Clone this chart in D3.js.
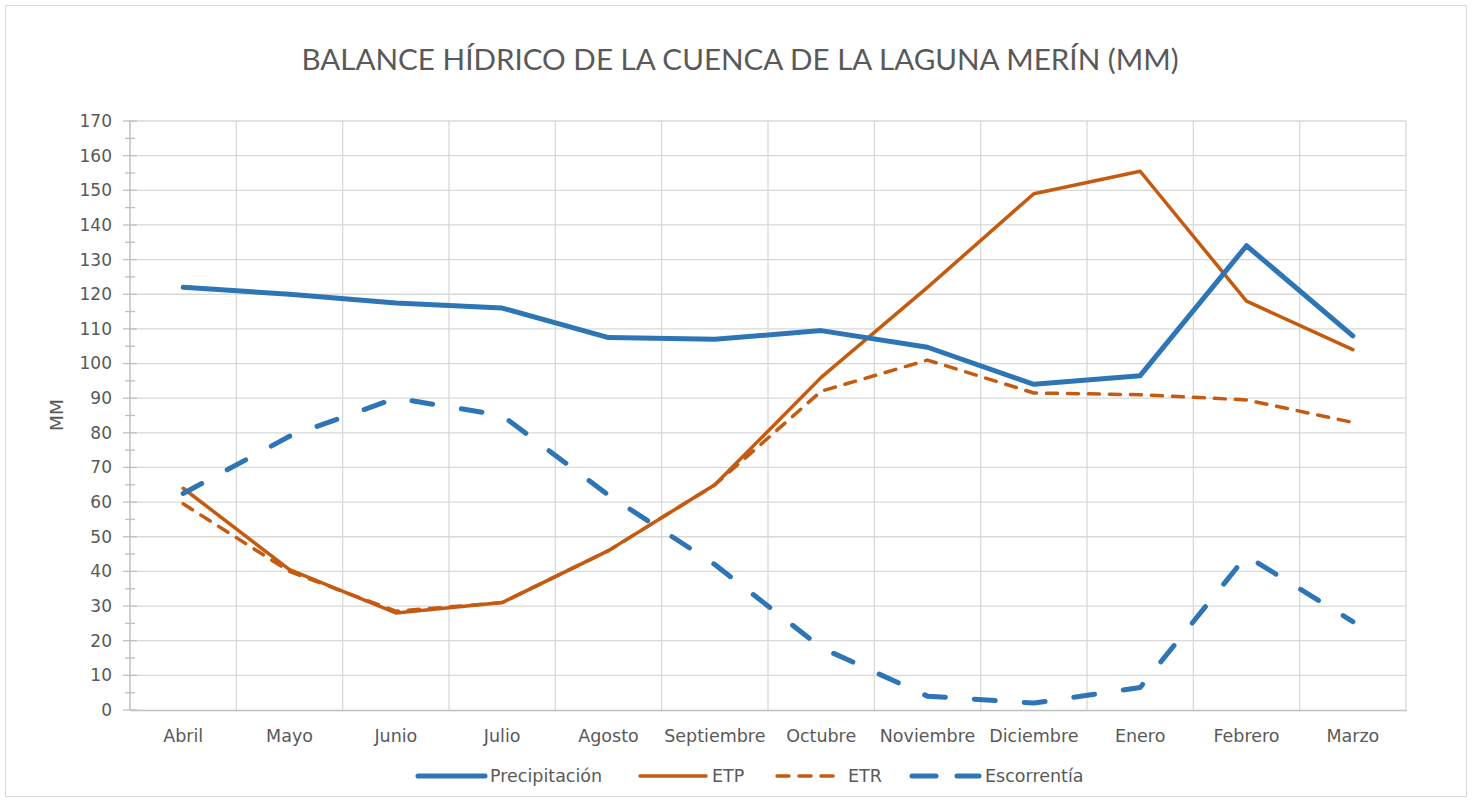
<!DOCTYPE html>
<html><head><meta charset="utf-8">
<script src="https://cdn.jsdelivr.net/npm/d3@7"></script>
<style>body{margin:0;background:#fff;} svg{display:block;}</style>
</head><body>
<svg id="chart" width="1472" height="802"></svg>
<script>
const categories = ["Abril","Mayo","Junio","Julio","Agosto","Septiembre","Octubre","Noviembre","Diciembre","Enero","Febrero","Marzo"];
const precipitacion = [122,120,117.5,116,107.5,107,109.5,104.7,94,96.5,134,108];
const etp = [64,40.5,28,31,46,65,96,122,149,155.5,118,104];
const etr = [59.5,40,28.5,31,46,65,92,101,91.5,91,89.5,83];
const escorrentia = [62.5,79,90,85,62,42,18,4,2,6.5,44.5,25.5];
const yTicks = d3.range(0,171,10);
const yMinorTicks = d3.range(5,170,10);

(function(){
const svg = d3.select("#chart");
const pl=130,pr=1406,pt=121,pb=710;
const x = d3.scaleBand().domain(categories).range([pl,pr]);
const y = d3.scaleLinear().domain([0,170]).range([pb,pt]);
const cx = d => x(d)+x.bandwidth()/2;
const grey="#595959";

svg.append("rect").attr("x",5.5).attr("y",5.5).attr("width",1461).attr("height",791)
  .attr("fill","#fff").attr("stroke","#D9D9D9").attr("stroke-width",1);

svg.append("text").attr("x",740).attr("y",70).attr("text-anchor","middle")
  .attr("font-family","Lato").attr("font-size",29.6).attr("fill",grey)
  .text("BALANCE HÍDRICO DE LA CUENCA DE LA LAGUNA MERÍN (MM)");

const g = svg.append("g");
g.selectAll("line.h").data(yTicks.filter(t=>t>0)).join("line").attr("class","h")
  .attr("x1",pl).attr("x2",pr).attr("y1",d=>y(d)).attr("y2",d=>y(d))
  .attr("stroke","#D9D9D9").attr("stroke-width",1.3);
g.selectAll("line.v").data(categories).join("line").attr("class","v")
  .attr("x1",d=>x(d)+x.bandwidth()).attr("x2",d=>x(d)+x.bandwidth())
  .attr("y1",pt).attr("y2",pb)
  .attr("stroke","#D9D9D9").attr("stroke-width",1.3);

const yAxis = d3.axisLeft(y).tickValues(yTicks).tickSize(0).tickPadding(18);
const ya = svg.append("g").attr("transform",`translate(${pl},0)`).call(yAxis);
ya.select(".domain").remove();
ya.selectAll("text").attr("font-family","DejaVu Sans").attr("font-size",17).attr("fill",grey);
svg.append("g").selectAll("line").data(yTicks).join("line")
  .attr("x1",pl-7).attr("x2",pl+7).attr("y1",d=>y(d)).attr("y2",d=>y(d))
  .attr("stroke","#BFBFBF").attr("stroke-width",1.3);
svg.append("g").selectAll("line").data(yMinorTicks).join("line")
  .attr("x1",pl-5).attr("x2",pl+5).attr("y1",d=>y(d)).attr("y2",d=>y(d))
  .attr("stroke","#BFBFBF").attr("stroke-width",1.3);
svg.append("line").attr("x1",pl).attr("x2",pl).attr("y1",pt).attr("y2",pb)
  .attr("stroke","#BFBFBF").attr("stroke-width",1.5);

const xAxis = d3.axisBottom(x).tickSize(0).tickPadding(20);
const xa = svg.append("g").attr("transform",`translate(0,${pb})`).call(xAxis);
xa.select(".domain").attr("stroke","#BFBFBF").attr("stroke-width",1.5);
xa.selectAll("text").attr("font-family","DejaVu Sans").attr("font-size",17.5).attr("fill",grey);

svg.append("text").attr("transform","translate(63,415) rotate(-90)").attr("text-anchor","middle")
  .attr("font-family","DejaVu Sans").attr("font-size",18.5).attr("fill",grey).text("MM");

const series = [
  {name:"ETP", data:etp, color:"#C55A11", width:3.5, dash:null},
  {name:"ETR", data:etr, color:"#C55A11", width:3.5, dash:"11,10"},
  {name:"Escorrentía", data:escorrentia, color:"#2E75B6", width:5, dash:"21,29"},
  {name:"Precipitación", data:precipitacion, color:"#2E75B6", width:5, dash:null},
];
const line = d3.line().x((d,i)=>cx(categories[i])).y(d=>y(d));
svg.append("g").selectAll("path").data(series).join("path")
  .attr("d",d=>line(d.data)).attr("fill","none")
  .attr("stroke",d=>d.color).attr("stroke-width",d=>d.width)
  .attr("stroke-dasharray",d=>d.dash).attr("stroke-linecap","round").attr("stroke-linejoin","round");

const legend = [
  {name:"Precipitación", color:"#2E75B6", width:5, dash:null, x0:418, len:67},
  {name:"ETP", color:"#C55A11", width:3.5, dash:null, x0:640, len:66},
  {name:"ETR", color:"#C55A11", width:3.5, dash:"12,10", x0:777, len:58},
  {name:"Escorrentía", color:"#2E75B6", width:5, dash:"24,21", x0:912, len:67},
];
const lg = svg.append("g").selectAll("g").data(legend).join("g");
lg.append("line").attr("x1",d=>d.x0).attr("x2",d=>d.x0+d.len).attr("y1",776).attr("y2",776)
  .attr("stroke",d=>d.color).attr("stroke-width",d=>d.width).attr("stroke-dasharray",d=>d.dash)
  .attr("stroke-linecap","round");
const lx = [490,712,848,985];
lg.append("text").attr("x",(d,i)=>lx[i]).attr("y",776).attr("dy","0.35em")
  .attr("font-family","DejaVu Sans").attr("font-size",17.5).attr("fill",grey).text(d=>d.name);
})();
</script>
</body></html>
